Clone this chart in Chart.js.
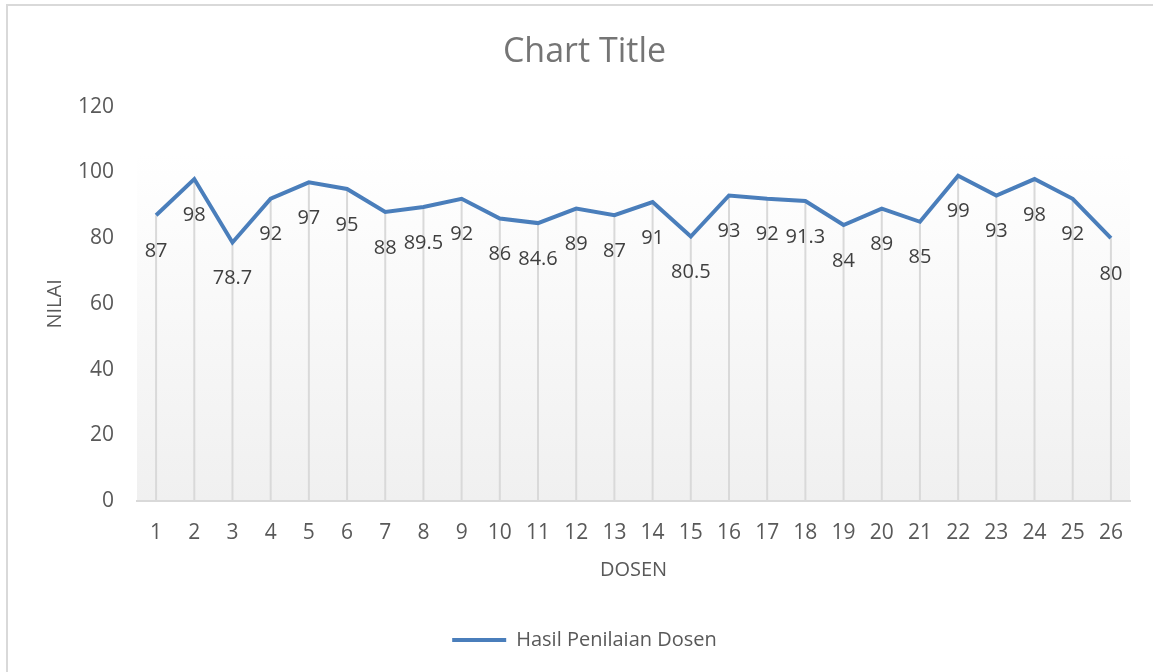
<!DOCTYPE html>
<html>
<head>
<meta charset="utf-8">
<script src="https://cdn.jsdelivr.net/npm/chart.js@4.4.0/dist/chart.umd.min.js"></script>
<style>
  html, body { margin: 0; padding: 0; background: #fff; }
  #wrap { position: relative; width: 1153px; height: 672px; }
</style>
</head>
<body>
<div id="wrap"><canvas id="chart" width="1153" height="672"></canvas></div>
<script>
const dosenLabels = ['1','2','3','4','5','6','7','8','9','10','11','12','13','14','15','16','17','18','19','20','21','22','23','24','25','26'];
const nilaiValues = [87, 98, 78.7, 92, 97, 95, 88, 89.5, 92, 86, 84.6, 89, 87, 91, 80.5, 93, 92, 91.3, 84, 89, 85, 99, 93, 98, 92, 80];
const yTicks = [0, 20, 40, 60, 80, 100, 120];

const FONT = '"Open Sans", Lato, sans-serif';
const BLUE = '#4a7ebb';

// frame + plot area gradient
const backgroundPlugin = {
  id: 'background',
  beforeDraw(chart) {
    const { ctx, chartArea: a } = chart;
    ctx.save();
    ctx.fillStyle = '#ffffff';
    ctx.fillRect(0, 0, chart.width, chart.height);
    ctx.strokeStyle = '#d9d9d9';
    ctx.lineWidth = 2;
    ctx.beginPath();
    ctx.moveTo(7, chart.height + 2);
    ctx.lineTo(7, 5);
    ctx.lineTo(chart.width + 2, 5);
    ctx.stroke();
    const g = ctx.createLinearGradient(0, a.top, 0, a.bottom);
    g.addColorStop(0, '#ffffff');
    g.addColorStop(0.12, '#ffffff');
    g.addColorStop(1, '#f0f0f0');
    ctx.fillStyle = g;
    ctx.fillRect(a.left, a.top, a.right - a.left, a.bottom - a.top);
    ctx.restore();
  }
};

// drop lines from each point to the axis
const dropLinesPlugin = {
  id: 'dropLines',
  beforeDatasetsDraw(chart) {
    const { ctx } = chart;
    const meta = chart.getDatasetMeta(0);
    const base = chart.scales.y.getPixelForValue(0);
    ctx.save();
    ctx.strokeStyle = '#d9d9d9';
    ctx.lineWidth = 2;
    meta.data.forEach((pt) => {
      ctx.beginPath();
      ctx.moveTo(pt.x, pt.y);
      ctx.lineTo(pt.x, base);
      ctx.stroke();
    });
    ctx.restore();
  }
};

// value labels below each point
const valueLabelsPlugin = {
  id: 'valueLabels',
  afterDatasetsDraw(chart) {
    const { ctx } = chart;
    const meta = chart.getDatasetMeta(0);
    const data = chart.data.datasets[0].data;
    ctx.save();
    ctx.font = '20px ' + FONT;
    ctx.fillStyle = '#404040';
    ctx.textAlign = 'center';
    ctx.textBaseline = 'middle';
    meta.data.forEach((pt, i) => {
      ctx.fillText(String(data[i]), pt.x, pt.y + 36);
    });
    ctx.restore();
  }
};

new Chart(document.getElementById('chart').getContext('2d'), {
  type: 'line',
  data: {
    labels: dosenLabels,
    datasets: [
      {
        label: 'Hasil Penilaian Dosen',
        data: nilaiValues,
        borderColor: BLUE,
        backgroundColor: BLUE,
        borderWidth: 4,
        pointRadius: 0,
        pointHoverRadius: 0,
        tension: 0,
        pointStyle: 'line',
      },
    ],
  },
  options: {
    responsive: false,
    animation: false,
    devicePixelRatio: 1,
    layout: {
      padding: { left: 39, right: 23, top: 0, bottom: 12 },
    },
    plugins: {
      title: {
        display: true,
        text: 'Chart Title',
        color: '#757575',
        font: { family: FONT, size: 34, weight: 'normal' },
        padding: { top: 32, bottom: 34 },
      },
      legend: {
        position: 'bottom',
        labels: {
          usePointStyle: true,
          pointStyleWidth: 54,
          color: '#595959',
          font: { family: FONT, size: 20 },
        },
      },
      tooltip: { enabled: false },
    },
    scales: {
      x: {
        offset: true,
        grid: { display: false, drawTicks: false },
        border: { display: true, color: '#d9d9d9', width: 2 },
        ticks: {
          color: '#595959',
          font: { family: FONT, size: 21 },
          padding: 19,
          maxRotation: 0,
          autoSkip: false,
        },
        title: {
          display: true,
          text: 'DOSEN',
          color: '#595959',
          font: { family: FONT, size: 20 },
          padding: { top: 4, bottom: 38 },
        },
        afterFit(scale) {
          scale.height = 119;
        },
      },
      y: {
        min: 0,
        max: 120,
        afterBuildTicks(scale) {
          scale.ticks = yTicks.map((v) => ({ value: v }));
        },
        grid: { display: false, drawTicks: false },
        border: { display: false },
        ticks: {
          color: '#595959',
          font: { family: FONT, size: 21 },
          padding: 23,
        },
        title: {
          display: true,
          text: 'NILAI',
          color: '#595959',
          font: { family: FONT, size: 20 },
          padding: { top: 4, bottom: 4 },
        },
        afterFit(scale) {
          scale.width = 98;
        },
      },
    },
  },
  plugins: [backgroundPlugin, dropLinesPlugin, valueLabelsPlugin],
});
</script>
</body>
</html>
